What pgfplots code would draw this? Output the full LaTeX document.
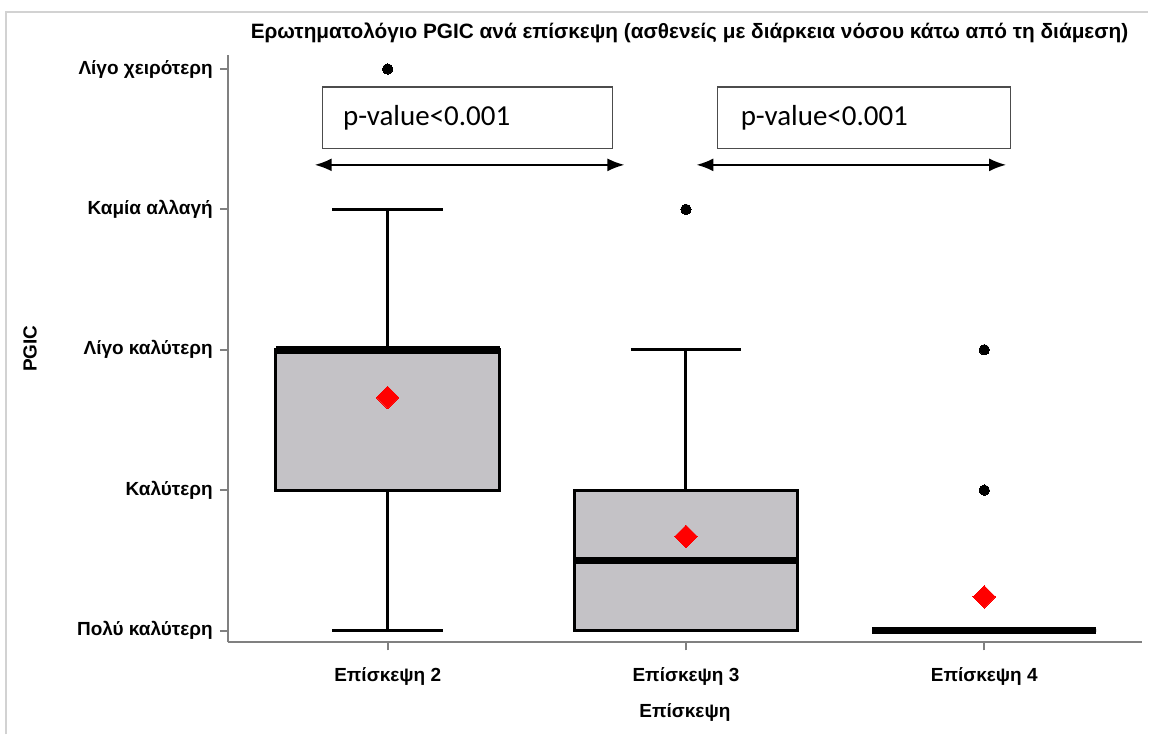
\documentclass[border=0pt]{standalone}
\usepackage{fontspec}
\setmainfont{Liberation Sans}
\newfontfamily\calfont{Carlito}
\usepackage{pgfplots}
\pgfplotsset{compat=1.18}
\usepgfplotslibrary{statistics}
\usetikzlibrary{arrows.meta}
\definecolor{boxgray}{RGB}{196,194,198}
\definecolor{axgray}{RGB}{128,128,128}
\begin{document}
\begin{tikzpicture}[x=0.5pt,y=0.5pt]
\path[fill=white] (0,0) rectangle (1149,735);
\draw[gray!35, line width=1pt] (6.5,0) -- (6.5,723) -- (1149,723);
\begin{axis}[
  at={(114pt,46pt)}, anchor=south west,
  scale only axis, width=457.5pt, height=294pt,
  xmin=1.464, xmax=4.529, ymin=0.915, ymax=5.1,
  axis x line*=bottom, axis y line*=left,
  axis line style={draw=axgray, line width=1pt},
  xtick={2,3,4}, xticklabels={Επίσκεψη 2, Επίσκεψη 3, Επίσκεψη 4},
  ytick={1,2,3,4,5},
  yticklabels={Πολύ καλύτερη, Καλύτερη, Λίγο καλύτερη, Καμία αλλαγή, Λίγο χειρότερη},
  tick align=outside, major tick length=4pt,
  tick style={draw=axgray, line width=1pt},
  ticklabel style={font=\bfseries\fontsize{9.5}{11}\selectfont},
  xticklabel style={yshift=-5pt},
  xlabel={Επίσκεψη}, ylabel={PGIC},
  label style={font=\bfseries\fontsize{9.5}{11}\selectfont},
  xlabel style={at={(axis description cs:0.5,0)}, anchor=center, yshift=-35pt},
  ylabel style={at={(axis description cs:-0.2164,0.5)}, anchor=center},
  clip=false,
  boxplot/draw direction=y,
  boxplot/every median/.style={line width=3.75pt},
  boxplot/every whisker/.style={line width=1.5pt},
  boxplot/every box/.style={line width=1.5pt, fill=boxgray},
]
\addplot[boxplot prepared={draw position=2, lower whisker=1, lower quartile=2,
  median=3, upper quartile=3, upper whisker=4, box extend=0.75, whisker extend=0.37},
  draw=black, line width=1.5pt, mark=*, mark size=2.6pt,
  mark options={fill=black, draw=black, line width=0pt}]
  coordinates {(2,5)};
\addplot[boxplot prepared={draw position=3, lower whisker=1, lower quartile=1,
  median=1.5, upper quartile=2, upper whisker=3, box extend=0.75, whisker extend=0.37},
  draw=black, line width=1.5pt, mark=*, mark size=2.6pt,
  mark options={fill=black, draw=black, line width=0pt}]
  coordinates {(3,4)};
\addplot[boxplot prepared={draw position=4, lower whisker=1, lower quartile=1,
  median=1, upper quartile=1, upper whisker=1, box extend=0.75, whisker extend=0.37},
  draw=black, line width=1.5pt, mark=*, mark size=2.6pt,
  mark options={fill=black, draw=black, line width=0pt}]
  coordinates {(4,2) (4,3)};
\addplot[only marks, mark=square*, mark size=4pt,
  mark options={rotate=45, fill=red, draw=red, line width=0pt}]
  coordinates {(2,2.66) (3,1.67) (4,1.24)};
\end{axis}
\node[font=\bfseries\fontsize{10.4}{12}\selectfont] at (690,702)
  {Ερωτηματολόγιο PGIC ανά επίσκεψη (ασθενείς με διάρκεια νόσου κάτω από τη διάμεση)};
\draw[draw=gray!60!black, line width=0.6pt] (323,648) rectangle (613,586);
\node[anchor=west, font=\calfont\fontsize{14.5}{16}\selectfont, inner sep=0pt] at (343,617) {p-value<0.001};
\draw[draw=gray!60!black, line width=0.6pt] (718,648) rectangle (1011,586);
\node[anchor=west, font=\calfont\fontsize{14.5}{16}\selectfont, inner sep=0pt] at (741,617) {p-value<0.001};
\draw[{Latex[length=8.5pt,width=6.5pt]}-{Latex[length=8.5pt,width=6.5pt]}, line width=1pt] (315,570) -- (625,570);
\draw[{Latex[length=8.5pt,width=6.5pt]}-{Latex[length=8.5pt,width=6.5pt]}, line width=1pt] (697,570) -- (1007,570);
\end{tikzpicture}
\end{document}
